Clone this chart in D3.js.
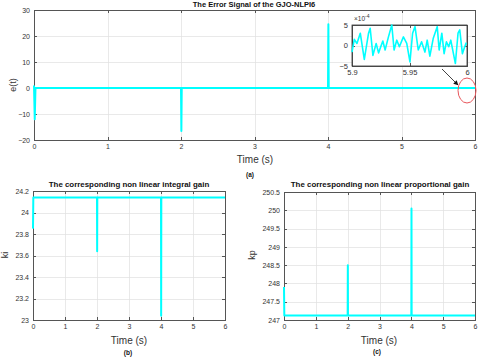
<!doctype html>
<html>
  <head>
    <meta charset="utf-8">
    <script src="https://d3js.org/d3.v7.min.js"></script>
    <style>
      body { margin: 0; background: #fff; }
      text { font-family: "Liberation Sans", Arial, sans-serif; }
      .grid line { stroke: #e0e0e0; stroke-width: 0.7; shape-rendering: crispEdges; }
      .grid path { stroke-width: 0; }
      .ax path, .ax line { stroke: #555; shape-rendering: crispEdges; }
      .ax text { fill: #333; font-size: 7px; }
    </style>
  </head>
  <body>
    <script>
    // ---- data ----
    var timeTicks = [0, 1, 2, 3, 4, 5, 6];

    var errT = [0, 0.01, 0.02, 2, 2.005, 2.01, 4, 4.005, 4.01, 6];
    var errV = [1, -12, 0, 0, -16.5, 0, 0, 24.5, 0, 0];
    var errTicks = [-20, -10, 0, 10, 20, 30];

    var kiT = [0, 0.01, 0.02, 2, 2.005, 2.01, 4, 4.005, 4.01, 6];
    var kiV = [23.85, 24.14, 24.14, 24.14, 23.64, 24.14, 24.14, 23.04, 24.14, 24.14];
    var kiTicks = [23, 23.2, 23.4, 23.6, 23.8, 24, 24.2];

    var kpT = [0, 0.01, 0.02, 2, 2.005, 2.01, 4, 4.005, 4.01, 6];
    var kpV = [247.9, 247.12, 247.12, 247.12, 248.5, 247.12, 247.12, 250.05, 247.12, 247.12];
    var kpTicks = [247, 247.5, 248, 248.5, 249, 249.5, 250, 250.5];

    // zoomed detail (x1e-4)
    var insetT = [5.9, 5.902, 5.9043, 5.9072, 5.9107, 5.9144, 5.9158, 5.9182, 5.921, 5.9231,
                  5.9268, 5.9288, 5.9317, 5.9346, 5.9366, 5.9389, 5.9412, 5.9447, 5.9476, 5.9504,
                  5.9527, 5.9548, 5.9576, 5.9605, 5.9634, 5.9654, 5.9677, 5.9706, 5.9741, 5.9758,
                  5.9781, 5.9801, 5.9821, 5.9841, 5.9859, 5.9899, 5.9922, 5.9937, 5.996, 5.998, 5.9994];
    var insetV = [-1.6, 1.5, 0.5, 3.0, -3.4, 3.0, 4.2, -2.4, 0.5, -1.8,
                  1.1, -1.1, 2.1, 5.0, -1.1, 1.3, -0.3, 2.1, 0.5, -4.0,
                  3.0, 4.6, -1.1, 0.9, -1.6, 1.3, -2.6, 1.7, 4.6, -1.1,
                  3.0, -2.0, 0.9, -0.3, 1.3, -4.4, 3.0, 3.8, -2.0, -0.3, 0.7];
    var insetXTicks = [5.9, 5.95, 6];
    var insetYTicks = [-5, 0, 5];

    var cyan = "#00ffff";

    var svg = d3.select("body")
      .append("svg")
      .attr("width", 480)
      .attr("height", 360);

    // draws one MATLAB-like panel and returns its scales
    function panel(box, xDomain, yDomain, xTicks, yTicks, xFmt, yFmt) {
      var g = svg.append("g")
        .attr("transform", "translate(" + box.left + "," + box.top + ")");

      var x = d3.scaleLinear().domain(xDomain).range([0, box.w]);
      var y = d3.scaleLinear().domain(yDomain).range([box.h, 0]);

      g.append("rect")
        .attr("width", box.w).attr("height", box.h)
        .attr("fill", "#fff");

      g.append("g").attr("class", "grid")
        .attr("transform", "translate(0," + box.h + ")")
        .call(d3.axisBottom(x).tickValues(xTicks).tickSize(-box.h).tickFormat(""));
      g.append("g").attr("class", "grid")
        .call(d3.axisLeft(y).tickValues(yTicks).tickSize(-box.w).tickFormat(""));

      g.append("g").attr("class", "ax")
        .attr("transform", "translate(0," + box.h + ")")
        .call(d3.axisBottom(x).tickValues(xTicks).tickSizeInner(-3).tickSizeOuter(0)
          .tickPadding(box.pad || 4).tickFormat(xFmt));
      g.append("g").attr("class", "ax")
        .call(d3.axisLeft(y).tickValues(yTicks).tickSizeInner(-3).tickSizeOuter(0)
          .tickPadding(box.pad || 4).tickFormat(yFmt));
      g.append("g").attr("class", "ax")
        .call(d3.axisTop(x).tickValues(xTicks).tickSizeInner(-3).tickSizeOuter(0).tickFormat(""));
      g.append("g").attr("class", "ax")
        .attr("transform", "translate(" + box.w + ",0)")
        .call(d3.axisRight(y).tickValues(yTicks).tickSizeInner(-3).tickSizeOuter(0).tickFormat(""));

      return { g: g, x: x, y: y };
    }

    function drawLine(p, ts, vs, width) {
      var pts = ts.map(function(t, i) { return [t, vs[i]]; });
      var line = d3.line()
        .x(function(d) { return p.x(d[0]); })
        .y(function(d) { return p.y(d[1]); });
      p.g.append("path")
        .datum(pts)
        .attr("fill", "none")
        .attr("stroke", cyan)
        .attr("stroke-width", width)
        .attr("stroke-linejoin", "round")
        .attr("d", line);
    }

    function label(x, y, txt, size, bold, rot) {
      var t = svg.append("text")
        .attr("x", x).attr("y", y)
        .attr("text-anchor", "middle")
        .attr("dominant-baseline", "middle")
        .attr("fill", bold ? "#111" : "#333")
        .style("font-size", size + "px")
        .attr("font-weight", bold ? "bold" : "normal")
        .text(txt);
      if (rot) t.attr("transform", "rotate(-90," + x + "," + y + ")");
      return t;
    }

    var fmt = d3.format("");

    // (a) error signal
    var pa = panel({ left: 34, top: 10, w: 441, h: 130, pad: 4 },
      [0, 6], [-20, 30], timeTicks, errTicks, fmt, fmt);
    drawLine(pa, errT, errV, 2);
    label(254, 5, "The Error Signal of the GJO-NLPI6", 7.5, true);
    label(255, 160, "Time (s)", 10, false);
    label(14, 85, "e(t)", 9, false, true);
    label(250, 175, "(a)", 6.5, true);

    // inset
    var pi = panel({ left: 352, top: 25, w: 115, h: 41, pad: 4 },
      [5.9, 6], [-5, 5], insetXTicks, insetYTicks, fmt, fmt);
    pi.g.selectAll(".ax text").style("font-size", "7.5px");
    pi.g.append("rect")
      .attr("width", 115).attr("height", 41)
      .attr("fill", "none").attr("stroke", "#333").attr("stroke-width", 0.8);
    drawLine(pi, insetT, insetV, 1.6);
    var exp = svg.append("text")
      .attr("x", 354).attr("y", 21)
      .attr("fill", "#333")
      .style("font-size", "6.5px")
      .text("\u00d710");
    exp.append("tspan").attr("dy", -3).style("font-size", "5px").text("-4");

    // arrow to the zoomed region
    var defs = svg.append("defs");
    defs.append("marker")
      .attr("id", "head")
      .attr("viewBox", "0 0 10 10")
      .attr("refX", 9).attr("refY", 5)
      .attr("markerWidth", 6).attr("markerHeight", 6)
      .attr("orient", "auto")
      .append("path").attr("d", "M0,0L10,5L0,10z").attr("fill", "#111");
    svg.append("line")
      .attr("x1", 442).attr("y1", 69)
      .attr("x2", 458).attr("y2", 85)
      .attr("stroke", "#111").attr("stroke-width", 0.8)
      .attr("marker-end", "url(#head)");
    svg.append("ellipse")
      .attr("cx", 467).attr("cy", 90.5)
      .attr("rx", 9).attr("ry", 12.5)
      .attr("fill", "none").attr("stroke", "#e8555a").attr("stroke-width", 1);

    // (b) integral gain
    var pb = panel({ left: 33, top: 191, w: 192, h: 129, pad: 4 },
      [0, 6], [23, 24.2], timeTicks, kiTicks, fmt, fmt);
    drawLine(pb, kiT, kiV, 2);
    label(129, 185, "The corresponding non linear integral gain", 7.9, true);
    label(129, 341, "Time (s)", 10, false);
    label(6, 255, "ki", 9, false, true);
    label(128, 353, "(b)", 6.5, true);

    // (c) proportional gain
    var pc = panel({ left: 284, top: 192, w: 191, h: 128, pad: 4 },
      [0, 6], [247, 250.5], timeTicks, kpTicks, fmt, fmt);
    drawLine(pc, kpT, kpV, 2);
    label(380, 185, "The corresponding non linear proportional gain", 7.9, true);
    label(379, 341, "Time (s)", 10, false);
    label(253, 255, "kp", 9, false, true);
    label(377, 352, "(c)", 6.5, true);
    </script>
  </body>
</html>
